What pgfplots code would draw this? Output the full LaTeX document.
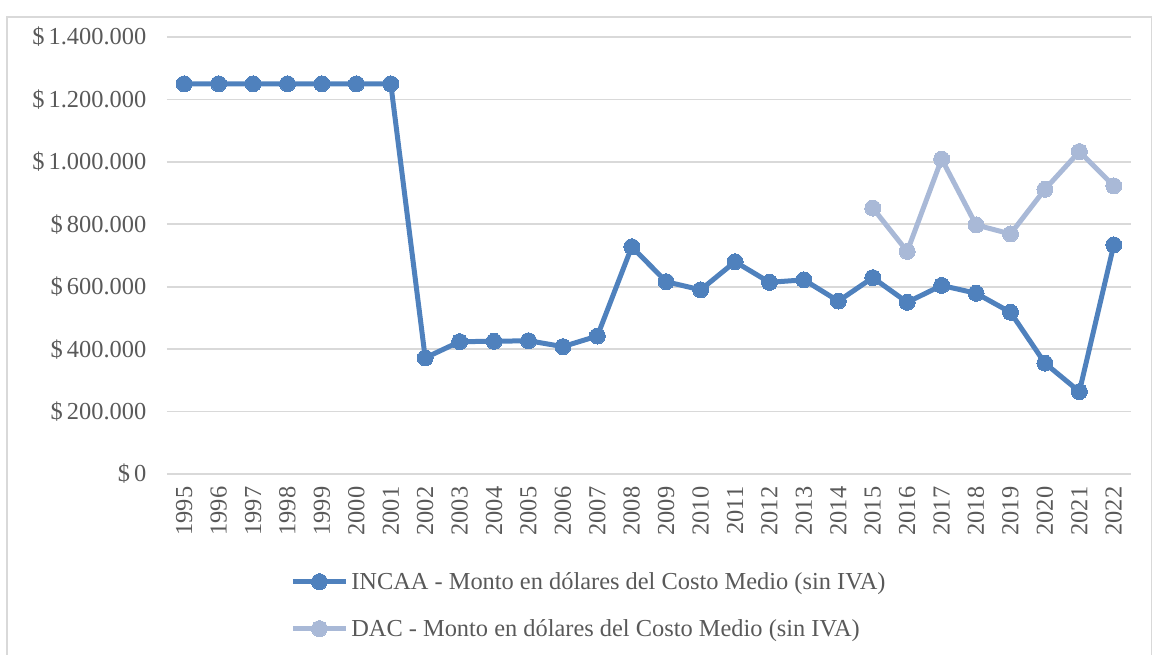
\documentclass[border=0pt]{standalone}
\usepackage{pgfplots}
\pgfplotsset{compat=1.18}
\usepackage{fontspec}
\setmainfont{Liberation Serif}
\definecolor{incaa}{HTML}{4F81BD}
\definecolor{dac}{HTML}{A9B9D7}
\definecolor{txt}{HTML}{595959}
\definecolor{grd}{HTML}{D9D9D9}
\begin{document}
\begin{tikzpicture}
\useasboundingbox (0,0) rectangle (864.75pt,491.25pt);
\draw[color=grd, line width=1pt] (5.25pt,0pt) -- (5.25pt,478.5pt) -- (863.5pt,478.5pt) -- (863.5pt,0pt);
\begin{axis}[
  at={(125.25pt,135.75pt)}, anchor=south west,
  scale only axis, width=723pt, height=327.75pt,
  xmin=1994.5, xmax=2022.5, ymin=0, ymax=1400000,
  xtick={1995,...,2022}, ytick={0,200000,...,1400000},
  scaled y ticks=false,
  axis line style={draw=none}, tick style={draw=none},
  ymajorgrids, grid style={color=grd, line width=1.2pt},
  /pgf/number format/assume math mode=true,
  font=\fontsize{18.3}{21}\selectfont, text=txt,
  yticklabel={\$\,\pgfmathprintnumber[fixed,1000 sep={.}]{\tick}},
  yticklabel style={anchor=east, xshift=-12pt},
  xticklabel={\pgfmathprintnumber[fixed,1000 sep={}]{\tick}},
  xticklabel style={rotate=90, anchor=east, yshift=0pt, xshift=-6pt},
  legend cell align=left,
  legend style={draw=none, fill=none, at={(0.1276,-0.218)}, anchor=north west,
    inner sep=0pt, row sep=17pt, font=\fontsize{18.3}{21}\selectfont, text=txt},
  legend image code/.code={\draw[mark repeat=2,mark phase=2,#1] plot coordinates {(0pt,0pt) (20pt,0pt) (40pt,0pt)};},
]
\addplot[color=incaa, line width=3.75pt, mark=*, mark size=6pt, mark options={solid, line width=0pt}] coordinates {
(1995,1250000) (1996,1250000) (1997,1250000) (1998,1250000) (1999,1250000) (2000,1250000) (2001,1250000)
(2002,372000) (2003,424000) (2004,425000) (2005,427000) (2006,408000) (2007,442000) (2008,728000)
(2009,616000) (2010,590000) (2011,680000) (2012,614000) (2013,622000) (2014,554000) (2015,629000)
(2016,550000) (2017,604000) (2018,579000) (2019,518000) (2020,355000) (2021,264000) (2022,734000)
};
\addlegendentry{INCAA - Monto en dólares del Costo Medio (sin IVA)}
\addplot[color=dac, line width=3.75pt, mark=*, mark size=6pt, mark options={solid, line width=0pt}] coordinates {
(2015,852000) (2016,713000) (2017,1009000) (2018,798000) (2019,769000) (2020,912000) (2021,1033000) (2022,923000)
};
\addlegendentry{DAC - Monto en dólares del Costo Medio (sin IVA)}
\end{axis}
\end{tikzpicture}
\end{document}
